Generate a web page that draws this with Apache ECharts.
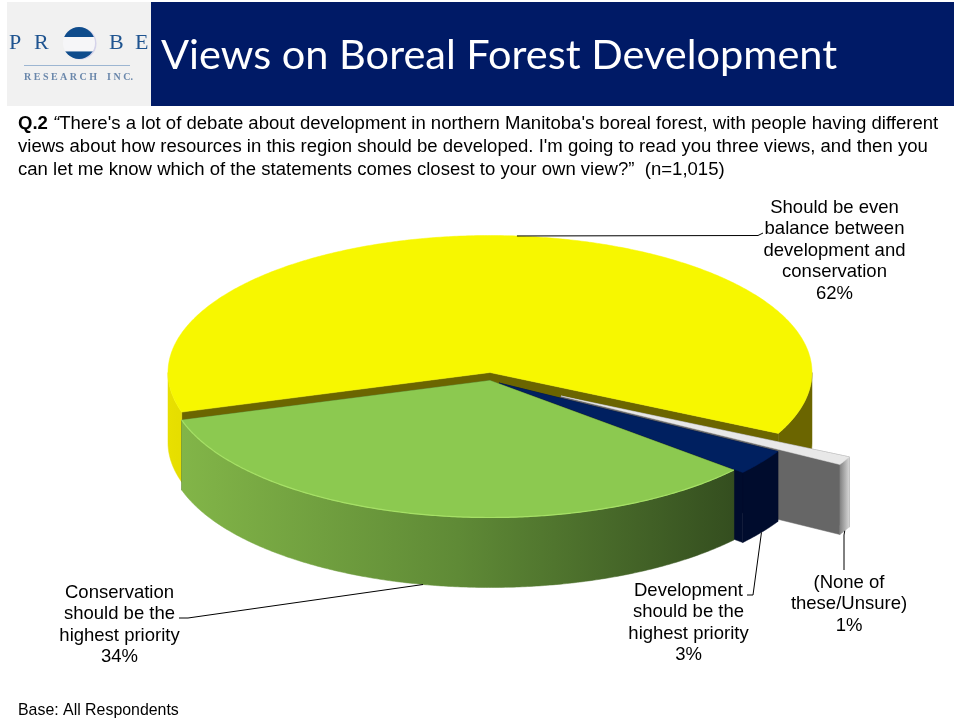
<!DOCTYPE html>
<html>
<head>
<meta charset="utf-8">
<title>Views on Boreal Forest Development</title>
<style>
  html, body { margin: 0; padding: 0; background: #fff; }
  #main { width: 954px; height: 719px; }
</style>
<script src="https://cdn.jsdelivr.net/npm/echarts@6/dist/echarts.min.js"></script>
</head>
<body>
<div id="main"></div>
<script>
// data
const sliceNames = [
  "Should be even\nbalance between\ndevelopment and\nconservation",
  "(None of\nthese/Unsure)",
  "Development\nshould be the\nhighest priority",
  "Conservation\nshould be the\nhighest priority",
];
const sliceValues = [62, 1, 3, 34];

// pie layout
const CX = 490, CY = 372.5, RX = 322, RY = 137, DEPTH = 70;
const START_ANGLE = 163.2; // screen clockwise, 0 = right
const explode = [[0, 0], [71, 23.5], [9, 10.5], [0, 8]];

// slice colours
const topColors = ["#f7f700", "#e8e8e8", "#002060", "#8cc950"];
const wallColors = ["#6b6500", "#666666", "#000c2d", "#354f20"];
const rimColors = [null, null, null, "#a6e066"];
const sideFills = [
  new echarts.graphic.LinearGradient(168, 0, 813, 0, [
    { offset: 0, color: "#e8e000" },
    { offset: 0.5, color: "#a8a200" },
    { offset: 0.9, color: "#6b6500" },
    { offset: 1, color: "#6b6500" },
  ], true),
  new echarts.graphic.LinearGradient(839, 0, 850, 0, [
    { offset: 0, color: "#7a7a7a" },
    { offset: 1, color: "#dddddd" },
  ], true),
  "#000c2d",
  new echarts.graphic.LinearGradient(182, 0, 734, 0, [
    { offset: 0, color: "#82b548" },
    { offset: 0.5, color: "#5f8a36" },
    { offset: 1, color: "#344e1f" },
  ], true),
];

// label anchors: text centre, first line y, elbow points of the leader line
const labelBoxes = [
  { x: 834.5, y: 197, leader: [[758, 235.5], [763, 233]] },
  { x: 849, y: 572, leader: [[844, 535], [844, 570]] },
  { x: 688.5, y: 580, leader: [[753, 595], [747, 595]] },
  { x: 119.5, y: 582, leader: [[188, 618], [179, 618]] },
];

const total = sliceValues.reduce((a, b) => a + b, 0);
const startAngles = [];
let acc = START_ANGLE;
sliceValues.forEach((v) => {
  startAngles.push(acc);
  acc += (v / total) * 360;
});

function pt(c, deg, dy) {
  const r = (deg * Math.PI) / 180;
  return [c[0] + RX * Math.cos(r), c[1] + RY * Math.sin(r) + (dy || 0)];
}

function arcPoints(c, a0, a1, dy) {
  const pts = [];
  const n = Math.max(2, Math.ceil(Math.abs(a1 - a0) * 2));
  for (let i = 0; i <= n; i++) {
    pts.push(pt(c, a0 + ((a1 - a0) * i) / n, dy));
  }
  return pts;
}

function poly(points, fill) {
  // same colour stroke, otherwise the joins between faces show a light seam
  return { type: "polygon", shape: { points: points }, style: { fill: fill, stroke: fill, lineWidth: 0.5 } };
}

function wall(c, deg, fill) {
  const p = pt(c, deg);
  const q = pt(c, deg, DEPTH);
  return poly([c, p, q, [c[0], c[1] + DEPTH]], fill);
}

function renderSlice(params, api) {
  const i = params.dataIndex;
  const sweep = (api.value(0) / total) * 360;
  const a0 = startAngles[i];
  const a1 = a0 + sweep;
  const c = [CX + explode[i][0], CY + explode[i][1]];
  const children = [wall(c, a0, wallColors[i]), wall(c, a1, wallColors[i])];

  // outer side only shows on the front half of the ellipse
  [0, 360].forEach((base) => {
    const from = Math.max(a0, base);
    const to = Math.min(a1, base + 180);
    if (to > from) {
      const top = arcPoints(c, from, to, 0);
      const bottom = arcPoints(c, to, from, DEPTH);
      children.push(poly(top.concat(bottom), sideFills[i]));
    }
  });

  const mid = (a0 + a1) / 2;
  children.push(poly([c].concat(arcPoints(c, a0, a1, 0)), topColors[i]));
  if (rimColors[i]) {
    children.push({
      type: "polyline",
      shape: { points: arcPoints(c, a0, a1, 0) },
      style: { stroke: rimColors[i], lineWidth: 1.2, fill: null },
    });
  }

  // leader line from the middle of the slice, label text
  const onFront = Math.sin((mid * Math.PI) / 180) > 0;
  const box = labelBoxes[i];
  children.push({
    type: "polyline",
    shape: { points: [pt(c, mid, onFront ? DEPTH : 0)].concat(box.leader) },
    style: { stroke: "#000", lineWidth: 1, fill: null },
  });
  children.push({
    type: "text",
    style: {
      x: box.x,
      y: box.y,
      text: sliceNames[i] + "\n" + api.value(0) + "%",
      fill: "#000",
      font: '18.5px "Liberation Sans", Arial, sans-serif',
      lineHeight: 21.5,
      align: "center",
      verticalAlign: "top",
    },
  });
  return { type: "group", children: children };
}

const chart = echarts.init(document.getElementById("main"));
const bodyFont = '18.56px "Liberation Sans", Arial, sans-serif';
const logoFont = '22px "Liberation Serif", serif';
chart.setOption({
  animation: false,
  backgroundColor: "#fff",
  graphic: [
    { type: "rect", shape: { x: 7, y: 2, width: 144, height: 104 }, style: { fill: "#f1f1f1" } },
    { type: "rect", shape: { x: 151, y: 2, width: 803, height: 104 }, style: { fill: "#001a66" } },
    // logo
    { type: "circle", shape: { cx: 80.5, cy: 43.5, r: 16 }, style: { fill: "#d5d3ea" } },
    {
      type: "circle",
      shape: { cx: 79, cy: 43, r: 16 },
      style: {
        fill: new echarts.graphic.LinearGradient(0, 0, 0, 1, [
          { offset: 0, color: "#0f4c8c" },
          { offset: 0.31, color: "#0f4c8c" },
          { offset: 0.32, color: "#f6f6f8" },
          { offset: 0.76, color: "#f6f6f8" },
          { offset: 0.77, color: "#0f4c8c" },
          { offset: 1, color: "#0f4c8c" },
        ]),
      },
    },
    { type: "text", style: { x: 9, y: 32, text: "P", fill: "#1f5490", font: logoFont } },
    { type: "text", style: { x: 34, y: 32, text: "R", fill: "#1f5490", font: logoFont } },
    { type: "text", style: { x: 109, y: 32, text: "B", fill: "#1f5490", font: logoFont } },
    { type: "text", style: { x: 135, y: 32, text: "E", fill: "#1f5490", font: logoFont } },
    { type: "line", shape: { x1: 24, y1: 65.5, x2: 130, y2: 65.5 }, style: { stroke: "#9db6d2", lineWidth: 1 } },
    { type: "text", style: { x: 24, y: 72, text: "R E S E A R C H    I N C.", fill: "#6a87ab", font: 'bold 10px "Liberation Serif", serif' } },
    // title
    { type: "text", style: { x: 161, y: 35, text: "Views on Boreal Forest Development", fill: "#fff", font: '41.5px Lato, sans-serif' } },
    // question
    {
      type: "text",
      style: {
        x: 18, y: 114,
        text: "{b|Q.2} {i|\u201C}There's a lot of debate about development in northern Manitoba's boreal forest, with people having different",
        fill: "#000", font: bodyFont,
        rich: {
          b: { font: 'bold 18.56px "Liberation Sans", Arial, sans-serif', fill: "#000" },
          i: { font: 'italic 18.56px "Liberation Sans", Arial, sans-serif', fill: "#000" },
        },
      },
    },
    { type: "text", style: { x: 18, y: 137, text: "views about how resources in this region should be developed. I'm going to read you three views, and then you", fill: "#000", font: bodyFont } },
    { type: "text", style: { x: 18, y: 160, text: "can let me know which of the statements comes closest to your own view?\u201D  (n=1,015)", fill: "#000", font: bodyFont } },
    { type: "text", style: { x: 18, y: 703, text: "Base: All Respondents", fill: "#000", font: '15.9px "Liberation Sans", Arial, sans-serif' } },
  ],
  series: [
    {
      type: "custom",
      coordinateSystem: "none",
      silent: true,
      renderItem: renderSlice,
      data: sliceValues.map((v) => [v]),
    },
  ],
});
</script>
</body>
</html>
